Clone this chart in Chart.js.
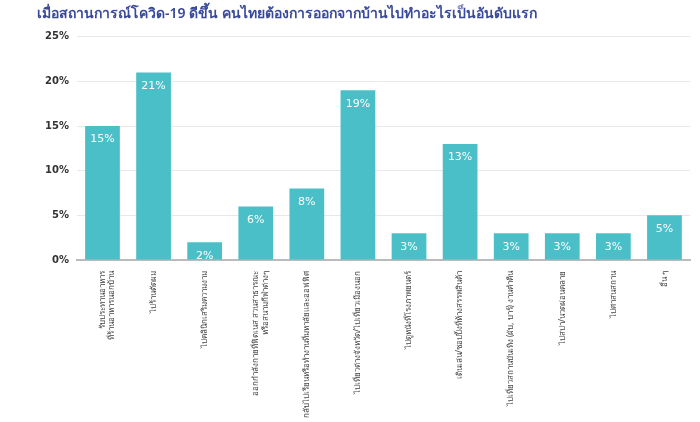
<!DOCTYPE html><html><head><meta charset="utf-8">
<script src="https://cdn.jsdelivr.net/npm/chart.js@4"></script>
<style>body{margin:0;background:#fff}#w{width:700px;height:422px}</style></head><body><div id="w"><canvas id="c"></canvas></div>
<script>
const categories=[["รับประทานอาหาร","ที่ร้านอาหารนอกบ้าน"],"ไปร้านตัดผม","ไปคลินิกเสริมความงาม",["ออกกำลังกายที่ฟิตเนส สวนสาธารณะ","หรือสนามกีฬาต่างๆ"],"กลับไปเรียนหรือทำงานที่มหาลัยและออฟฟิศ","ไปเที่ยวต่างจังหวัด/ไปเที่ยวเมืองนอก","ไปดูหนังที่โรงภาพยนตร์","เดินเล่น/ชอปปิ้งที่ห้างสรรพสินค้า","ไปเที่ยวสถานบันเทิง (ผับ, บาร์) งานคำคืน","ไปสปา/นวดผ่อนคลาย","ไปศาสนสถาน","อื่น ๆ"];
const values=[15,21,2,6,8,19,3,13,3,3,3,5];
const yTicks=[0,5,10,15,20,25];
const labelPlugin={id:'vals',afterDatasetsDraw(ch){const ctx=ch.ctx;const m=ch.getDatasetMeta(0);ctx.save();ctx.fillStyle='#fff';ctx.font='11px "DejaVu Sans"';ctx.textAlign='center';ctx.textBaseline='top';m.data.forEach((b,i)=>ctx.fillText(values[i]+'%',b.x,b.y+8));ctx.restore();}};
new Chart(document.getElementById('c'),{type:'bar',data:{labels:categories,datasets:[{data:values,backgroundColor:'#4bbfc8',barPercentage:0.68,categoryPercentage:1}]},
options:{responsive:true,maintainAspectRatio:false,animation:false,layout:{padding:{left:37,right:10,top:2,bottom:1}},
plugins:{legend:{display:false},tooltip:{enabled:false},title:{display:true,text:'เมื่อสถานการณ์โควิด-19 ดีขึ้น คนไทยต้องการออกจากบ้านไปทำอะไรเป็นอันดับแรก',align:'start',color:'#3a4a9a',font:{size:14,weight:'600',family:'"Noto Sans"'},padding:{top:4,bottom:14}}},
scales:{y:{min:0,max:25,afterBuildTicks(s){s.ticks=yTicks.map(v=>({value:v}));},ticks:{callback:v=>v+'%',color:'#333',font:{size:10,weight:'bold',family:'"DejaVu Sans"'},padding:8},grid:{color:'#e8e8e8',drawTicks:false},border:{display:false}},
x:{ticks:{maxRotation:90,minRotation:90,color:'#444',font:{size:8,family:'"Noto Sans"'},autoSkip:false},grid:{display:false},border:{color:'#bbb',width:2}}}},plugins:[labelPlugin]});
</script></body></html>
